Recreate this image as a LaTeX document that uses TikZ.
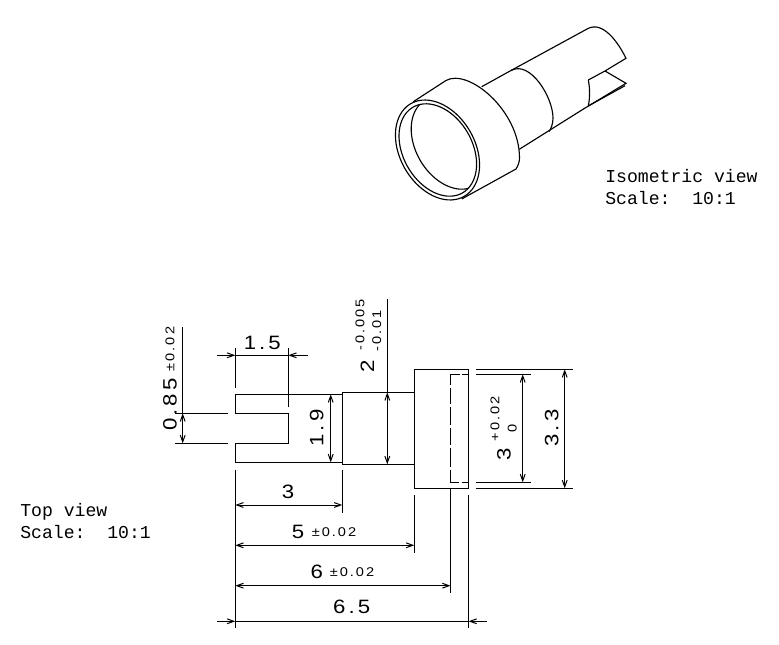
\documentclass[tikz,border=0pt]{standalone}
\usepackage{fontspec}
\setmainfont{Liberation Sans}
\newfontfamily\dimfont[FakeStretch=1.15,LetterSpace=16]{Liberation Sans}
\newfontfamily\noteface{Liberation Mono}
\usetikzlibrary{arrows.meta}
\newcommand{\isoarc}[6]{\draw[part] plot[domain=#5:#6,samples=72,smooth] ({#1+#3*cos(\x)*0.5+#4*sin(\x)*0.866},{#2+#3*cos(\x)*0.866-#4*sin(\x)*0.5});}
\tikzset{
  x=0.75pt,y=-0.75pt,
  part/.style={draw=black,line width=0.85pt},
  dimline/.style={draw=black,line width=0.75pt},
  tip/.style={-{Straight Barb[length=5pt,width=3.6pt]}},
  inner/.style={dimline,{Straight Barb[length=5pt,width=3.6pt]}-{Straight Barb[length=5pt,width=3.6pt]}},
  big/.style={font=\dimfont\fontsize{14.5}{15}\selectfont,inner sep=0pt},
  small/.style={font=\dimfont\fontsize{9.5}{11}\selectfont,inner sep=0pt},
  note/.style={font=\noteface\fontsize{13.6}{16.5}\selectfont,align=left,anchor=north west,inner sep=0pt},
}
\begin{document}
\begin{tikzpicture}
\useasboundingbox (0,0) rectangle (779,645);
% Isometric view
\isoarc{437.5}{150}{53.5}{37.5}{0}{360}
\isoarc{437.8}{150}{49.5}{34.5}{0}{360}
\begin{scope}
\clip plot[domain=0:360,samples=72,smooth] ({437.8+49.5*cos(\x)*0.5+34.5*sin(\x)*0.866},{150+49.5*cos(\x)*0.866-34.5*sin(\x)*0.5});
\isoarc{450}{143}{49.5}{34.5}{0}{360}
\end{scope}
\draw[part] (413.3,101.7) -- (446,80.5) .. controls (468,68) and (519.5,110) .. (519.5,158) .. controls (519.5,162) and (518,166) .. (516,169) -- (461.7,199);
\draw[part] (481.7,86.7) -- (511,70.5) .. controls (530,60) and (553,97) .. (553,118) .. controls (553,124) and (551,129) .. (549,131.5);
\draw[part] (511,70.5) -- (588,28.5) .. controls (603,21) and (618,42) .. (626,58.3) -- (605,71) -- (588.3,80);
\draw[part] (519.3,149.3) -- (583,109.3) -- (626,83.3) -- (605,71);
\draw[part] (625,85.7) -- (588.3,106);
\draw[part] (588.3,80) .. controls (590,88) and (590,98) .. (588.3,106);
% Top view body
\draw[part] (288.3,394.3) -- (235.3,394.3) -- (235.3,413.3) -- (288.3,413.3) -- (288.3,443.3) -- (235.3,443.3) -- (235.3,462.3) -- (342.3,462.3);
\draw[part] (288.3,394.3) -- (342.3,394.3);
\draw[part] (342.3,392.3) rectangle (414.3,464.3);
\draw[part] (414.3,369.3) rectangle (468.5,488.3);
\draw[part] (460,374.3) -- (450.5,374.3) -- (450.5,385);
\draw[part] (462,374.3) -- (468.5,374.3);
\draw[part] (450.5,388) -- (450.5,404);
\draw[part] (450.5,407) -- (450.5,425);
\draw[part] (450.5,428) -- (450.5,445);
\draw[part] (450.5,448) -- (450.5,467);
\draw[part] (450.5,470) -- (450.5,482.3) -- (458.5,482.3);
\draw[part] (461.7,482.3) -- (468.5,482.3);
% Extension lines
\draw[dimline] (235.3,348) -- (235.3,388);
\draw[dimline] (288.3,348) -- (288.3,407);
\draw[dimline] (175,413.3) -- (228,413.3);
\draw[dimline] (175,443.3) -- (228,443.3);
\draw[dimline] (476,369.3) -- (572.7,369.3);
\draw[dimline] (476,488.3) -- (572.7,488.3);
\draw[dimline] (476,374.3) -- (530.7,374.3);
\draw[dimline] (476,482.3) -- (530.7,482.3);
\draw[dimline] (235.3,470) -- (235.3,628);
\draw[dimline] (342.3,470) -- (342.3,512.7);
\draw[dimline] (414.3,495) -- (414.3,552.7);
\draw[dimline] (450.5,488.3) -- (450.5,592.7);
\draw[dimline] (468.5,495) -- (468.5,628);
% Dimensions
\draw[dimline,tip] (217,355.3) -- (235.3,355.3);
\draw[dimline,tip] (308,355.3) -- (288.3,355.3);
\draw[dimline] (235.3,355.3) -- (288.3,355.3);
\draw[dimline] (182.7,327) -- (182.7,413.3);
\draw[inner] (182.7,413.3) -- (182.7,443.3);
\draw[inner] (330.7,394.3) -- (330.7,462.3);
\draw[dimline] (387.3,299) -- (387.3,392.3);
\draw[inner] (387.3,392.3) -- (387.3,464.3);
\draw[inner] (522.7,374.3) -- (522.7,482.3);
\draw[inner] (564.7,369.3) -- (564.7,488.3);
\draw[inner] (235.3,505) -- (342.3,505);
\draw[inner] (235.3,545.3) -- (414.3,545.3);
\draw[inner] (235.3,585.7) -- (450.5,585.7);
\draw[dimline,tip] (217,621.3) -- (235.3,621.3);
\draw[dimline,tip] (486.7,621.3) -- (468.5,621.3);
\draw[dimline] (235.3,621.3) -- (468.5,621.3);
% Labels
\node[big] (d15) at (262.3,343) {1.5};
\node[big,rotate=90] (d085) at (170,404.6) {0.85};
\node[small,rotate=90] (d085t) at (170,349) {±0.02};
\node[big,rotate=90] (d19) at (316.7,428) {1.9};
\node[big,rotate=90] (d2) at (367.3,366) {2};
\node[small,rotate=90] (d2a) at (360,325) {-0.005};
\node[small,rotate=90] (d2b) at (376.7,331) {-0.01};
\node[big,rotate=90] (d3i) at (504,454) {3};
\node[small,rotate=90] (d3a) at (495,419) {+0.02};
\node[small,rotate=90] (d3b) at (512.3,428) {0};
\node[big,rotate=90] (d33) at (551.7,428) {3.3};
\node[big] (d3) at (288,491.7) {3};
\node[big] (d5) at (298,532) {5};
\node[small] (d5t) at (334,532) {±0.02};
\node[big] (d6) at (316.7,572) {6};
\node[small] (d6t) at (352,572) {±0.02};
\node[big] (d65) at (351.7,607) {6.5};
\node[note] (iso) at (605,169.5) {Isometric view\\Scale:\ \ 10:1};
\node[note] (top) at (20,503.5) {Top view\\Scale:\ \ 10:1};
\end{tikzpicture}
\end{document}
